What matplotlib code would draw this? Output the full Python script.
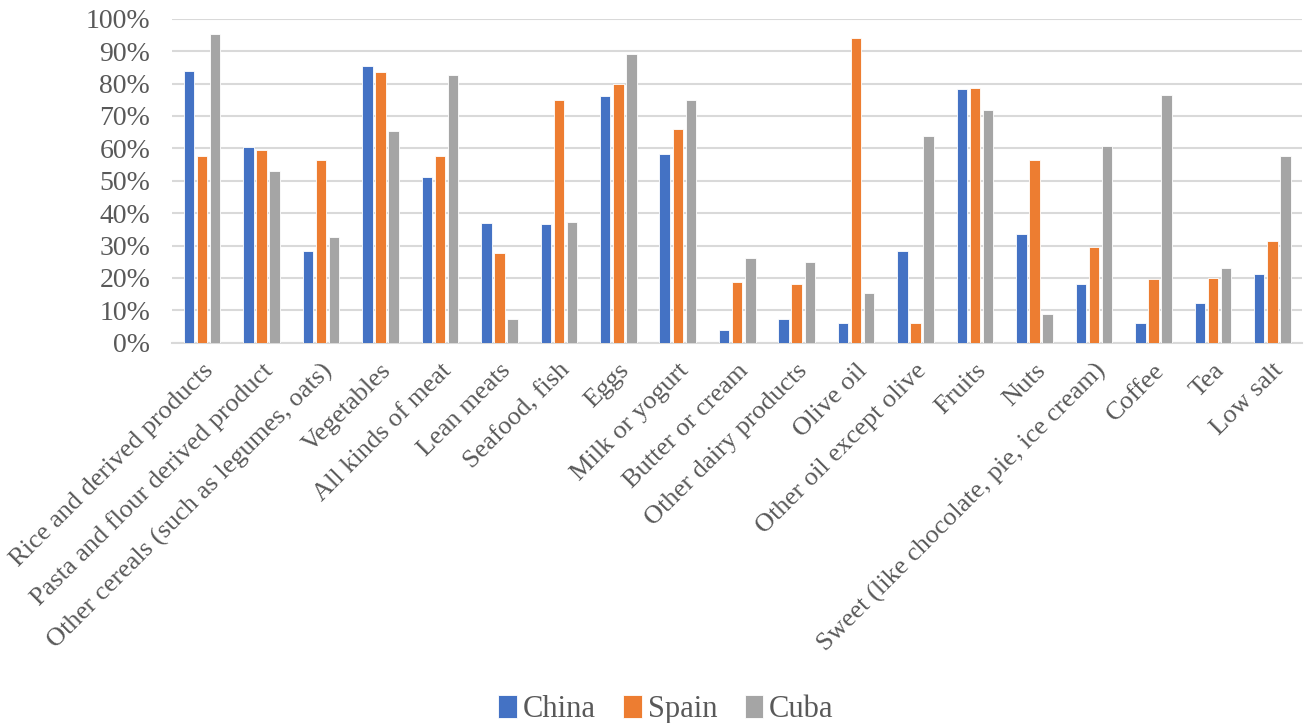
import matplotlib
matplotlib.use("Agg")
import matplotlib.pyplot as plt
import numpy as np
from matplotlib.ticker import PercentFormatter

categories = [
    "Rice and derived products", "Pasta and flour derived product",
    "Other cereals (such as legumes, oats)", "Vegetables", "All kinds of meat",
    "Lean meats", "Seafood, fish", "Eggs", "Milk or yogurt", "Butter or cream",
    "Other dairy products", "Olive oil", "Other oil except olive", "Fruits",
    "Nuts", "Sweet (like chocolate, pie, ice cream)", "Coffee", "Tea", "Low salt",
]
china = [83.8, 60.4, 28.3, 85.5, 51.2, 37.1, 36.5, 76.3, 58.2, 4.0, 7.2, 6.2, 28.3, 78.4, 33.5, 18.1, 6.2, 12.3, 21.1]
spain = [57.6, 59.5, 56.5, 83.7, 57.6, 27.6, 74.9, 79.8, 66.1, 18.8, 18.0, 94.1, 6.2, 78.6, 56.5, 29.6, 19.7, 19.9, 31.4]
cuba = [95.4, 52.9, 32.6, 65.5, 82.7, 7.4, 37.3, 89.1, 74.9, 26.3, 24.8, 15.3, 63.9, 71.8, 9.0, 60.8, 76.5, 23.2, 57.7]
series_names = ["China", "Spain", "Cuba"]
colors = ["#4472C4", "#ED7D31", "#A5A5A5"]

plt.rcParams['font.family'] = ['Liberation Serif', 'DejaVu Serif']

fig = plt.figure(figsize=(13.06, 7.23), dpi=100)
ax = fig.add_axes([0.132, 0.526, 0.865, 0.448])

x = np.arange(len(categories))
w = 0.175
step = 0.22
for i, (vals, name, c) in enumerate(zip([china, spain, cuba], series_names, colors)):
    ax.bar(x + (i - 1) * step, vals, width=w, color=c, label=name,
           edgecolor='white', linewidth=0.6, zorder=3)

ax.set_xlim(-0.5, len(categories) - 0.5)
ax.set_ylim(0, 100)
ax.set_yticks(np.arange(0, 101, 10))
ax.yaxis.set_major_formatter(PercentFormatter(decimals=0))
ax.grid(axis='y', color='#d9d9d9', linewidth=1.5, zorder=0)
for s in ['top', 'right', 'left']:
    ax.spines[s].set_visible(False)
ax.spines['bottom'].set_color('#d9d9d9')
ax.spines['bottom'].set_linewidth(1.5)
ax.tick_params(axis='y', length=0, labelsize=20, labelcolor='#595959', pad=16)
ax.tick_params(axis='x', length=0, labelsize=19, labelcolor='#595959', pad=12)
ax.set_xticks(x)
ax.set_xticklabels(categories, rotation=45, ha='right', va='top', rotation_mode='anchor')

handles, labels = ax.get_legend_handles_labels()
fig.legend(handles, labels, loc='lower center', ncol=3, frameon=False,
           bbox_to_anchor=(0.51, -0.04), fontsize=22, handlelength=0.6,
           handleheight=0.8, handletextpad=0.2, columnspacing=0.9,
           labelcolor='#595959')

fig.savefig("out.png", dpi=100)
